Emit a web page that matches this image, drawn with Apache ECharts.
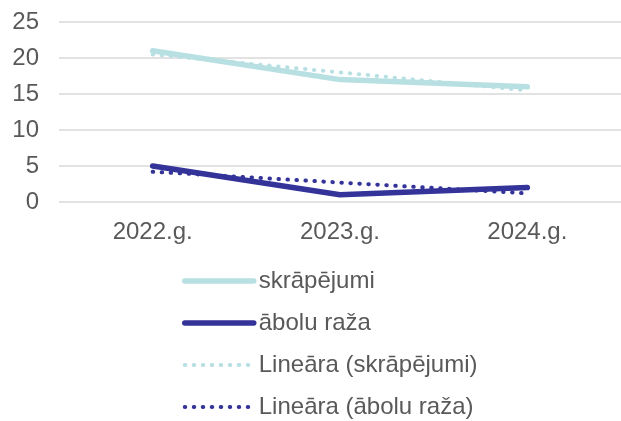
<!DOCTYPE html>
<html>
<head>
<meta charset="utf-8">
<script src="https://cdn.jsdelivr.net/npm/echarts@6/dist/echarts.min.js"></script>
<style>
  html, body { margin: 0; padding: 0; background: #fff; }
  #chart { width: 621px; height: 421px; }
</style>
</head>
<body>
<div id="chart"></div>
<script>
// values
const categories = ['2022.g.', '2023.g.', '2024.g.']
const skrapejumi = [21, 17, 16]
const abolu = [5, 1, 2]
const trendSkrapejumi = [20.5, 18, 15.5]
const trendAbolu = [4.2, 2.7, 1.2]

const lightColor = '#B8E0E3'
const darkColor = '#333399'
const textColor = '#595959'

const chart = echarts.init(document.getElementById('chart'))

chart.setOption({
  animation: false,
  textStyle: { fontFamily: 'Liberation Sans, Arial, sans-serif' },
  grid: { left: 59, right: -4, top: 22, bottom: 219 },
  xAxis: {
    type: 'category',
    data: categories,
    boundaryGap: true,
    axisLine: { show: false },
    axisTick: { show: false },
    axisLabel: { color: textColor, fontSize: 24, margin: 18 }
  },
  yAxis: {
    type: 'value',
    min: 0,
    max: 25,
    interval: 5,
    axisLine: { show: false },
    axisTick: { show: false },
    axisLabel: { color: textColor, fontSize: 24, margin: 20 },
    splitLine: { lineStyle: { color: '#D9D9D9', width: 1.5 } }
  },
  legend: {
    orient: 'vertical',
    left: 182,
    top: 269,
    padding: 0,
    width: 430,
    height: 160,
    itemWidth: 69,
    itemHeight: 24,
    itemGap: 18,
    itemStyle: { opacity: 0 },
    lineStyle: { width: 'inherit' },
    textStyle: { color: textColor, fontSize: 24, lineHeight: 24 },
    data: ['skrāpējumi', 'ābolu raža', 'Lineāra (skrāpējumi)', 'Lineāra (ābolu raža)']
  },
  series: [
    {
      name: 'skrāpējumi',
      type: 'line',
      data: skrapejumi,
      symbol: 'none',
      lineStyle: { color: lightColor, width: 5.5, cap: 'round', join: 'round' },
      itemStyle: { color: lightColor }
    },
    {
      name: 'ābolu raža',
      type: 'line',
      data: abolu,
      symbol: 'none',
      lineStyle: { color: darkColor, width: 5.5, cap: 'round', join: 'round' },
      itemStyle: { color: darkColor }
    },
    {
      name: 'Lineāra (skrāpējumi)',
      type: 'line',
      data: trendSkrapejumi,
      symbol: 'none',
      lineStyle: { color: lightColor, width: 4, type: [0.5, 8.5], cap: 'round' },
      itemStyle: { color: lightColor }
    },
    {
      name: 'Lineāra (ābolu raža)',
      type: 'line',
      data: trendAbolu,
      symbol: 'none',
      lineStyle: { color: darkColor, width: 4, type: [0.5, 8.5], cap: 'round' },
      itemStyle: { color: darkColor }
    }
  ]
})
</script>
</body>
</html>
